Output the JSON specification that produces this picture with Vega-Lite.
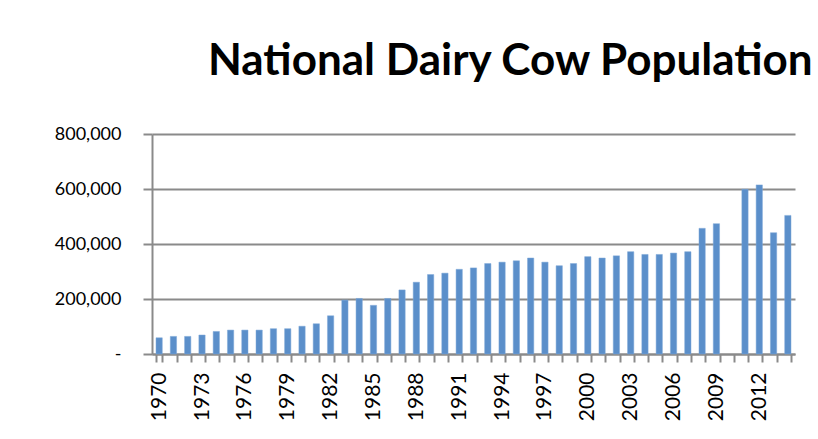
{
  "$schema": "https://vega.github.io/schema/vega-lite/v6.json",
  "width": 643,
  "height": 220,
  "autosize": {"type": "none"},
  "padding": {"left": 152, "top": 134, "right": 23, "bottom": 85},
  "background": "white",
  "title": {
    "text": "National Dairy Cow Population",
    "anchor": "start",
    "frame": "group",
    "dx": 56,
    "offset": 6,
    "baseline": "alphabetic",
    "font": "Lato",
    "fontSize": 44,
    "fontWeight": "bold",
    "color": "#000000"
  },
  "data": {
    "values": [
      {"year": 1970, "cows": 59000},
      {"year": 1971, "cows": 64000},
      {"year": 1972, "cows": 64000},
      {"year": 1973, "cows": 69000},
      {"year": 1974, "cows": 82000},
      {"year": 1975, "cows": 87000},
      {"year": 1976, "cows": 87000},
      {"year": 1977, "cows": 87000},
      {"year": 1978, "cows": 92000},
      {"year": 1979, "cows": 92000},
      {"year": 1980, "cows": 101000},
      {"year": 1981, "cows": 110000},
      {"year": 1982, "cows": 139000},
      {"year": 1983, "cows": 196000},
      {"year": 1984, "cows": 202000},
      {"year": 1985, "cows": 177000},
      {"year": 1986, "cows": 202000},
      {"year": 1987, "cows": 233000},
      {"year": 1988, "cows": 261000},
      {"year": 1989, "cows": 289000},
      {"year": 1990, "cows": 294000},
      {"year": 1991, "cows": 308000},
      {"year": 1992, "cows": 313000},
      {"year": 1993, "cows": 329000},
      {"year": 1994, "cows": 334000},
      {"year": 1995, "cows": 339000},
      {"year": 1996, "cows": 349000},
      {"year": 1997, "cows": 334000},
      {"year": 1998, "cows": 321000},
      {"year": 1999, "cows": 329000},
      {"year": 2000, "cows": 354000},
      {"year": 2001, "cows": 349000},
      {"year": 2002, "cows": 357000},
      {"year": 2003, "cows": 372000},
      {"year": 2004, "cows": 362000},
      {"year": 2005, "cows": 362000},
      {"year": 2006, "cows": 367000},
      {"year": 2007, "cows": 372000},
      {"year": 2008, "cows": 457000},
      {"year": 2009, "cows": 474000},
      {"year": 2010, "cows": null},
      {"year": 2011, "cows": 599000},
      {"year": 2012, "cows": 615000},
      {"year": 2013, "cows": 441000},
      {"year": 2014, "cows": 504000}
    ]
  },
  "mark": {"type": "bar", "color": "#5B8FCA", "stroke": "#7FA8D8", "strokeWidth": 0.5},
  "encoding": {
    "x": {
      "field": "year",
      "type": "ordinal",
      "scale": {
        "domain": [1970,1971,1972,1973,1974,1975,1976,1977,1978,1979,1980,1981,1982,1983,1984,1985,1986,1987,1988,1989,1990,1991,1992,1993,1994,1995,1996,1997,1998,1999,2000,2001,2002,2003,2004,2005,2006,2007,2008,2009,2010,2011,2012,2013,2014],
        "paddingInner": 0.56,
        "paddingOuter": 0.28
      },
      "axis": {
        "title": null,
        "labelAngle": -90,
        "labelAlign": "right",
        "labelBaseline": "middle",
        "labelExpr": "datum.value % 3 == 2 ? datum.label : ''",
        "labelOverlap": false,
        "labelFont": "Lato",
        "labelFontSize": 21,
        "labelColor": "#000000",
        "labelPadding": 10,
        "tickBand": "extent",
        "tickSize": 8,
        "tickWidth": 2,
        "tickColor": "#8a8a8a",
        "domainColor": "#8a8a8a",
        "domainWidth": 2,
        "grid": false
      }
    },
    "y": {
      "field": "cows",
      "type": "quantitative",
      "scale": {"domain": [0, 800000], "nice": false},
      "axis": {
        "title": null,
        "values": [0, 200000, 400000, 600000, 800000],
        "labelExpr": "datum.value == 0 ? '-\u00a0\u00a0\u00a0\u00a0' : format(datum.value, ',')",
        "labelFont": "Lato",
        "labelFontSize": 18,
        "labelColor": "#000000",
        "labelPadding": 22,
        "tickSize": 9,
        "tickWidth": 2,
        "tickColor": "#8a8a8a",
        "domainColor": "#8a8a8a",
        "domainWidth": 2,
        "grid": true,
        "gridColor": "#8a8a8a",
        "gridWidth": 2
      }
    }
  },
  "config": {"view": {"stroke": null}}
}
